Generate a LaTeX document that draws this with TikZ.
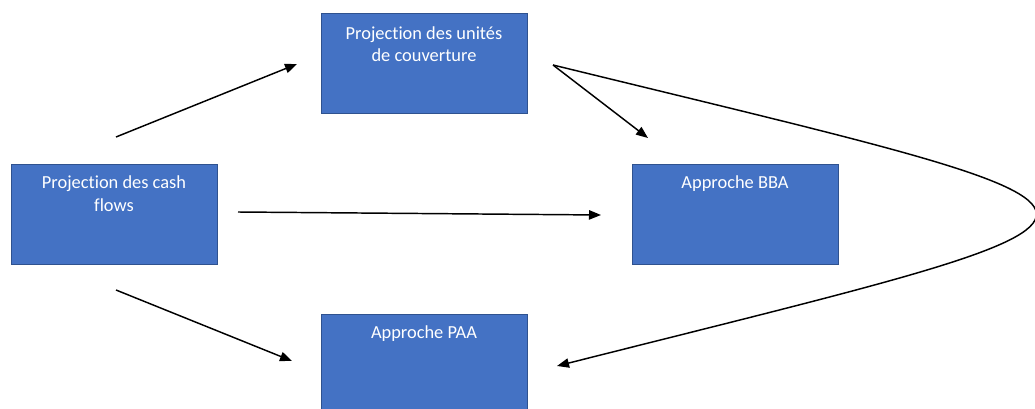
\documentclass[tikz,border=0pt]{standalone}
\usepackage{fontspec}
\setmainfont[Ligatures=NoCommon]{Carlito}
\usetikzlibrary{arrows.meta}
\definecolor{boxfill}{HTML}{4472C4}
\definecolor{boxline}{HTML}{2F528F}
\tikzset{
  box/.style={draw=boxline, line width=0.6pt, fill=boxfill, minimum width=154.5pt, minimum height=75pt, inner sep=0pt},
  boxtext/.style={text=white, font=\fontsize{13.8}{17}\selectfont, align=center, inner sep=0pt, anchor=base},
  conn/.style={line width=1.1pt, -{Triangle[length=9pt,width=7pt]}}
}
\begin{document}
\begin{tikzpicture}[x=0.75pt,y=-0.75pt]
\useasboundingbox (0,0) rectangle (1035,409);
\node[box] (unites) at (424,63.5) {};
\node[box] (cash) at (114,214.5) {};
\node[box] (bba) at (735,214.5) {};
\node[box] (paa) at (424,364) {};
\node[boxtext] (tu) at (424,62) {Projection des unités\\de couverture};
\node[boxtext] (tc) at (114,211.5) {Projection des cash\\flows};
\node[boxtext] (tb) at (735,188.5) {Approche BBA};
\node[boxtext] (tp) at (424,338.5) {Approche PAA};
\coordinate (a1s) at (116,137);
\coordinate (a1e) at (297,64);
\coordinate (a2s) at (238,212);
\coordinate (a2e) at (601,215);
\coordinate (a3s) at (116,290);
\coordinate (a3e) at (292,361);
\coordinate (a4s) at (553,65);
\coordinate (a4e) at (648,138);
\coordinate (a5e) at (557,366);
\draw[conn] (a1s) -- (a1e);
\draw[conn] (a2s) -- (a2e);
\draw[conn] (a3s) -- (a3e);
\draw[conn] (a4s) -- (a4e);
\draw[conn] (a4s) .. controls (1195,222) and (1195,205) .. (a5e);
\end{tikzpicture}
\end{document}
